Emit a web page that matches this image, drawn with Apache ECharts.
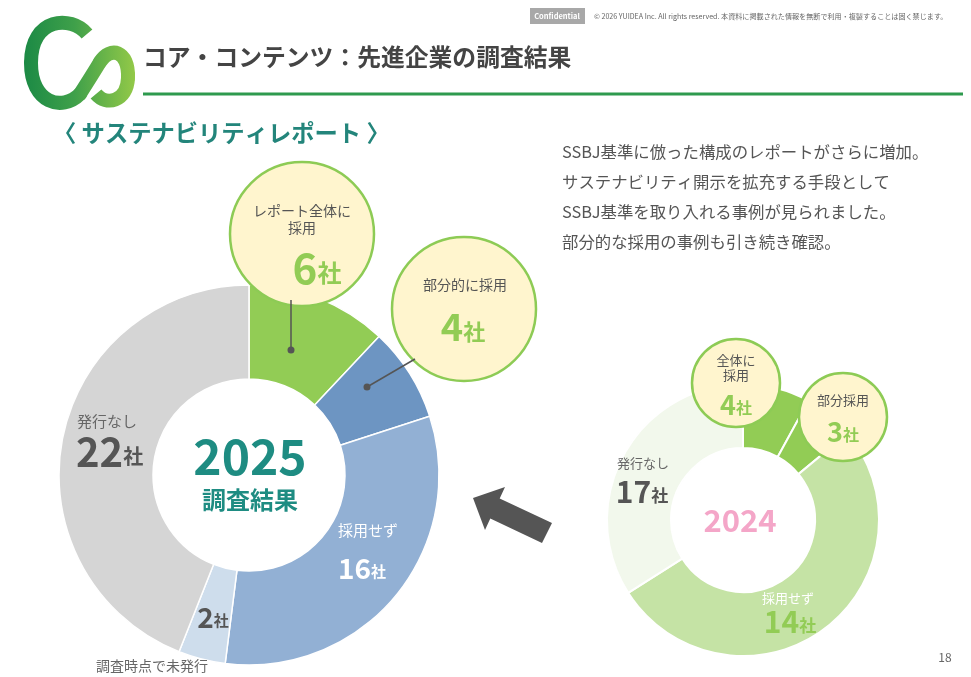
<!DOCTYPE html>
<html>
<head>
<meta charset="utf-8">
<script src="https://cdn.jsdelivr.net/npm/echarts@6/dist/echarts.min.js"></script>
<style>
  html, body { margin: 0; padding: 0; background: #fff; }
  #main { width: 971px; height: 677px; }
</style>
</head>
<body>
<div id="main"></div>
<script>
// 2025 調査結果（社数）
const cats2025 = ['レポート全体に採用', '部分的に採用', '採用せず', '調査時点で未発行', '発行なし'];
const vals2025 = [6, 4, 16, 2, 22];

// 2024 調査結果（社数）と、図に描かれたリングの比率
const cats2024 = ['全体に採用', '部分採用', '採用せず', '発行なし'];
const counts2024 = [4, 3, 14, 17];
const share2024 = [8, 6, 52, 34];

const bodyLines = [
  'SSBJ基準に倣った構成のレポートがさらに増加。',
  'サステナビリティ開示を拡充する手段として',
  'SSBJ基準を取り入れる事例が見られました。',
  '部分的な採用の事例も引き続き確認。'
];

const FONT = '"Noto Sans CJK JP", "Noto Sans", sans-serif';
const GREEN = '#92CC55';
const TEAL = '#1E8C82';
const colors2025 = ['#92CC55', '#6D95C2', '#92B0D4', '#CEDDEC', '#D5D5D5'];
const colors2024 = ['#92CC55', '#92CC55', '#C5E3A5', '#F2F8EC'];

var chart = echarts.init(document.getElementById('main'));

function txt(x, y, text, size, color, weight, align, extra) {
  var st = {
    text: text, fontSize: size, fill: color, fontFamily: FONT,
    fontWeight: weight || 'normal', textAlign: align || 'center', textVerticalAlign: 'middle'
  };
  if (extra) Object.assign(st, extra);
  return { type: 'text', x: x, y: y, z: 100, style: st };
}
// 数字＋「社」
function count(x, y, n, size, unit, color, align) {
  return txt(x, y, '{n|' + n + '}{u|社}', size, color, 'bold', align || 'center', {
    rich: {
      n: { fontSize: size, fontWeight: 'bold', fill: color, fontFamily: FONT },
      u: { fontSize: unit, fontWeight: 'bold', fill: color, fontFamily: FONT, padding: [size * 0.22, 0, 0, 0] }
    }
  });
}
function bubble(cx, cy, r) {
  return { type: 'circle', z: 90, shape: { cx: cx, cy: cy, r: r },
    style: { fill: '#FFF5CE', stroke: '#8DCB55', lineWidth: 2.5 } };
}

var elements = [];

// ロゴ（ベジェ曲線をつないで描く）
var logoGrad = {
  type: 'linear', global: true, x: 25, y: 0, x2: 135, y2: 0,
  colorStops: [{ offset: 0, color: '#1C8A45' }, { offset: 0.45, color: '#3FA04A' }, { offset: 1, color: '#93C948' }]
};
var logoSegs = [
  [87, 34, 71, 15, 31, 17, 31, 63, 'butt'],
  [31, 63, 31, 103, 62, 112, 80, 94, 'round'],
  [80, 94, 87, 83, 94, 72, 100, 62, 'round'],
  [100, 62, 110, 46, 129, 50, 128, 78, 'round'],
  [128, 78, 127, 102, 106, 106, 96, 94, 'butt']
];
logoSegs.forEach(function (s) {
  elements.push({
    type: 'bezierCurve', z: 100,
    shape: { x1: s[0], y1: s[1], cpx1: s[2], cpy1: s[3], cpx2: s[4], cpy2: s[5], x2: s[6], y2: s[7] },
    style: { fill: null, stroke: logoGrad, lineWidth: 14, lineCap: s[8] }
  });
});

// ヘッダー
elements.push(txt(143, 57, 'コア・コンテンツ：先進企業の調査結果', 23.8, '#444', 'bold', 'left'));
elements.push({ type: 'rect', z: 100, shape: { x: 143, y: 92.5, width: 820, height: 3 }, style: { fill: '#2E9A4E' } });
elements.push({ type: 'rect', z: 100, shape: { x: 530, y: 8, width: 55, height: 16 }, style: { fill: '#A8A8A8' } });
elements.push(txt(557, 16, 'Confidential', 7.5, '#fff', 'bold'));
elements.push(txt(594, 16.5, '© 2026 YUIDEA Inc. All rights reserved. 本資料に掲載された情報を無断で利用・複製することは固く禁じます。', 7.1, '#666', 'normal', 'left'));

// サブタイトル
elements.push(txt(53, 133, '〈 サステナビリティレポート 〉', 23.3, '#23857B', 'bold', 'left'));

// 本文
bodyLines.forEach(function (s, i) {
  elements.push(txt(562, 152 + i * 30, s, 16.4, '#555', 'normal', 'left'));
});

// 2025 中央
elements.push(txt(250, 457, '2025', 48, TEAL, 'bold'));
elements.push(txt(250, 500, '調査結果', 24, TEAL, 'bold'));

// 2025 ラベル
elements.push(txt(107, 421, cats2025[4], 15, '#666'));
elements.push(count(76, 452, vals2025[4], 40, 20, '#555', 'left'));
elements.push(txt(368, 530, cats2025[2], 15, '#fff'));
elements.push(count(362, 568, vals2025[2], 28, 15, '#fff'));
elements.push(count(213, 617, vals2025[3], 28, 15, '#555'));
elements.push(txt(152, 666, cats2025[3], 14, '#666'));

// 2025 引出線
elements.push({ type: 'line', z: 95, shape: { x1: 291, y1: 300, x2: 291, y2: 350 }, style: { stroke: '#555', lineWidth: 1.5 } });
elements.push({ type: 'circle', z: 95, shape: { cx: 291, cy: 350, r: 3.5 }, style: { fill: '#555' } });
elements.push({ type: 'line', z: 95, shape: { x1: 415, y1: 359, x2: 367, y2: 387 }, style: { stroke: '#555', lineWidth: 1.5 } });
elements.push({ type: 'circle', z: 95, shape: { cx: 367, cy: 387, r: 3.5 }, style: { fill: '#555' } });

// 2025 吹き出し
elements.push(bubble(302, 234, 72));
elements.push(txt(302, 211, 'レポート全体に', 14, '#555'));
elements.push(txt(302, 228, '採用', 14, '#555'));
elements.push(count(317, 268, vals2025[0], 42, 24, GREEN));
elements.push(bubble(464, 309, 72));
elements.push(txt(465, 285, cats2025[1], 14, '#555'));
elements.push(count(463, 327, vals2025[1], 38, 22, GREEN));

// 矢印
elements.push({
  type: 'polygon', z: 100,
  shape: { points: [[473, 498], [505, 487], [499.7, 498.6], [552, 523], [542, 543], [490.3, 518.4], [485, 530]] },
  style: { fill: '#555' }
});

// 2024 中央とラベル
elements.push(txt(740, 520, '2024', 31, '#F4A6C8', 'bold'));
elements.push(txt(643, 463, cats2024[3], 13, '#666'));
elements.push(count(642, 492, counts2024[3], 30, 17, '#555'));
elements.push(txt(788, 598, cats2024[2], 13, '#fff'));
elements.push(count(790, 622, counts2024[2], 30, 17, GREEN));

// 2024 吹き出し
elements.push(bubble(736, 383, 44));
elements.push(txt(736, 360, '全体に', 13, '#555'));
elements.push(txt(736, 375, '採用', 13, '#555'));
elements.push(count(736, 405, counts2024[0], 27, 16, GREEN));
elements.push(bubble(843, 417, 44));
elements.push(txt(843, 400, cats2024[1], 13, '#555'));
elements.push(count(843, 432, counts2024[1], 27, 16, GREEN));

// ページ番号
elements.push(txt(945, 657, '18', 12, '#666'));

chart.setOption({
  backgroundColor: '#fff',
  animation: false,
  series: [
    {
      name: '2025',
      type: 'pie',
      center: [249, 475],
      radius: [96, 190],
      startAngle: 90,
      clockwise: true,
      label: { show: false },
      labelLine: { show: false },
      emphasis: { disabled: true },
      itemStyle: { borderColor: '#fff', borderWidth: 1.5 },
      data: cats2025.map(function (c, i) {
        return { name: c, value: vals2025[i], itemStyle: { color: colors2025[i] } };
      })
    },
    {
      name: '2024',
      type: 'pie',
      center: [743, 520],
      radius: [72, 136],
      startAngle: 90,
      clockwise: true,
      label: { show: false },
      labelLine: { show: false },
      emphasis: { disabled: true },
      itemStyle: { borderColor: '#fff', borderWidth: 2 },
      data: cats2024.map(function (c, i) {
        return { name: c, value: share2024[i], itemStyle: { color: colors2024[i] } };
      })
    }
  ],
  graphic: { elements: elements }
});
</script>
</body>
</html>
